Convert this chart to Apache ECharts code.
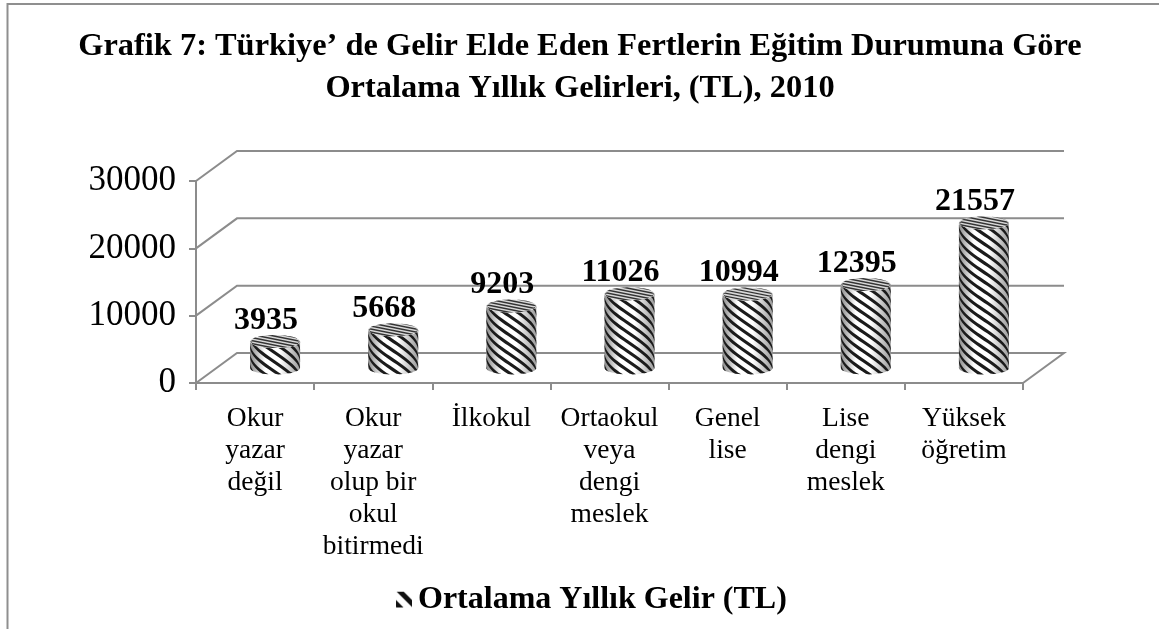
<!DOCTYPE html>
<html>
<head>
<meta charset="utf-8">
<style>
  html, body { margin: 0; padding: 0; background: #fff; }
  #main { width: 1159px; height: 629px; }
</style>
<script src="https://cdn.jsdelivr.net/npm/echarts@6/dist/echarts.min.js"></script>
</head>
<body>
<div id="main"></div>
<script>
var categories = [
  'Okur\nyazar\ndeğil',
  'Okur\nyazar\nolup bir\nokul\nbitirmedi',
  'İlkokul',
  'Ortaokul\nveya\ndengi\nmeslek',
  'Genel\nlise',
  'Lise\ndengi\nmeslek',
  'Yüksek\nöğretim'
];
var gelir = [3935, 5668, 9203, 11026, 10994, 12395, 21557];
var yTicks = [0, 10000, 20000, 30000];
var seriesName = 'Ortalama Yıllık Gelir (TL)';

var serif = '"Liberation Serif", serif';
var lineGray = '#8c8c8c';
var depthX = 41, depthY = 30;   // back wall offset
var midX = 20, midY = 15;       // where the cylinders stand on the floor

// small striped swatch for the legend
var swatch = document.createElement('canvas');
swatch.width = 16; swatch.height = 16;
var c = swatch.getContext('2d');
c.fillStyle = '#fff';
c.fillRect(0, 0, 16, 16);
c.strokeStyle = '#111';
c.lineWidth = 5;
c.beginPath();
c.moveTo(2, -2); c.lineTo(18, 14);
c.moveTo(-4, 8); c.lineTo(6, 18);
c.stroke();

function renderWall(params, api) {
  var rect = params.coordSys;
  var p = api.coord([0, api.value(1)]);
  var left = rect.x, right = rect.x + rect.width;
  var pts = [[left, p[1]], [left + depthX, p[1] - depthY], [right + depthX, p[1] - depthY]];
  if (api.value(1) === 0) pts.push([right, p[1]]);
  return {
    type: 'polyline',
    silent: true,
    shape: { points: pts },
    style: { stroke: lineGray, lineWidth: 2, fill: null }
  };
}

function renderCylinder(params, api) {
  var idx = api.value(0);
  var base = api.coord([idx, 0]);
  var top = api.coord([idx, api.value(1)]);
  var cx = base[0] + midX;
  var yBase = base[1] - midY;
  var yTop = top[1] - midY;
  var r = 25, ry = 6.5;
  var children = [];

  // body outline
  var outline = [];
  var i, t;
  for (i = 0; i <= 30; i++) {
    t = Math.PI * i / 30;
    outline.push([cx - r * Math.cos(t), yBase + ry * Math.sin(t)]);
  }
  for (i = 0; i <= 30; i++) {
    t = Math.PI * i / 30;
    outline.push([cx + r * Math.cos(t), yTop + ry * Math.sin(t)]);
  }
  children.push({
    type: 'polygon',
    shape: { points: outline },
    style: {
      fill: new echarts.graphic.LinearGradient(0, 0, 1, 0, [
        { offset: 0, color: '#8a8a8a' },
        { offset: 0.3, color: '#ffffff' },
        { offset: 0.6, color: '#ffffff' },
        { offset: 1, color: '#9a9a9a' }
      ])
    }
  });

  // helical stripes on the body
  var period = 9.5, dark = 3.8, rise = 17;
  var n = Math.ceil((yBase - yTop) / period) + 5;
  function clampY(y, x) {
    var e = ry * Math.sqrt(Math.max(0, 1 - Math.pow((x - cx) / r, 2)));
    return Math.min(yBase + e, Math.max(yTop + e, y));
  }
  for (var k = -3; k < n; k++) {
    var y0 = yTop + k * period;
    var upper = [], lower = [];
    for (i = 0; i <= 24; i++) {
      t = -Math.PI / 2 + Math.PI * i / 24;
      var x = cx + r * Math.sin(t);
      upper.push([x, clampY(y0 + rise * t, x)]);
      lower.unshift([x, clampY(y0 + dark + rise * t, x)]);
    }
    children.push({
      type: 'polygon',
      shape: { points: upper.concat(lower) },
      style: { fill: '#1b1b1b' }
    });
  }

  // top face
  children.push({
    type: 'ellipse',
    shape: { cx: cx, cy: yTop, rx: r, ry: ry },
    style: { fill: '#d8d8d8' }
  });
  for (var j = -4; j <= 4; j++) {
    var pts = [], pts2 = [];
    for (i = 0; i <= 20; i++) {
      var xx = cx - r + 2 * r * i / 20;
      var e2 = ry * Math.sqrt(Math.max(0, 1 - Math.pow((xx - cx) / r, 2)));
      var yy = yTop + j * 3 + (xx - cx) * 0.2;
      pts.push([xx, Math.min(yTop + e2, Math.max(yTop - e2, yy))]);
      pts2.unshift([xx, Math.min(yTop + e2, Math.max(yTop - e2, yy + 1.4))]);
    }
    children.push({
      type: 'polygon',
      shape: { points: pts.concat(pts2) },
      style: { fill: '#333' }
    });
  }

  children.push({
    type: 'text',
    style: {
      text: String(api.value(1)),
      x: cx - 9,
      y: yTop - 21,
      align: 'center',
      verticalAlign: 'middle',
      font: 'bold 32px ' + serif,
      fill: '#000'
    }
  });

  return { type: 'group', children: children };
}

var myChart = echarts.init(document.getElementById('main'));
myChart.setOption({
  animation: false,
  backgroundColor: '#fff',
  title: {
    text: 'Grafik 7: Türkiye’ de Gelir Elde Eden Fertlerin Eğitim Durumuna Göre\nOrtalama Yıllık Gelirleri, (TL), 2010',
    left: 575,
    top: 21,
    textAlign: 'center',
    textStyle: { fontFamily: serif, fontWeight: 'bold', fontSize: 32.4, lineHeight: 42, color: '#000' }
  },
  grid: { left: 196, right: 136, top: 181, bottom: 246 },
  legend: {
    data: [{ name: seriesName, itemStyle: { color: { image: swatch, repeat: 'no-repeat' } } }],
    left: 391,
    top: 579,
    icon: 'rect',
    itemWidth: 17,
    itemHeight: 17,
    itemGap: 5,
    textStyle: { fontFamily: serif, fontWeight: 'bold', fontSize: 32, color: '#000' }
  },
  xAxis: {
    type: 'category',
    data: categories,
    axisLine: { lineStyle: { color: lineGray, width: 2 } },
    axisTick: { show: true, length: 7, alignWithLabel: false, lineStyle: { color: lineGray, width: 2 } },
    axisLabel: { interval: 0, margin: 20, color: '#000', fontFamily: serif, fontSize: 27.5, lineHeight: 32 }
  },
  yAxis: {
    type: 'value',
    min: 0,
    max: 30000,
    interval: 10000,
    axisLine: { show: true, lineStyle: { color: lineGray, width: 2 } },
    axisTick: { show: true, length: 7, lineStyle: { color: lineGray, width: 2 } },
    splitLine: { show: false },
    axisLabel: {
      margin: 20,
      color: '#000',
      fontFamily: serif,
      fontSize: 35,
      formatter: function (v) { return String(v); }
    }
  },
  series: [
    {
      name: 'duvar',
      type: 'custom',
      renderItem: renderWall,
      data: yTicks.map(function (t) { return [0, t]; }),
      encode: { x: 0, y: 1 },
      z: 1,
      silent: true
    },
    {
      name: seriesName,
      type: 'custom',
      renderItem: renderCylinder,
      data: gelir.map(function (v, i) { return [i, v]; }),
      encode: { x: 0, y: 1 },
      clip: false,
      z: 3
    }
  ],
  graphic: [
    {
      type: 'polyline',
      silent: true,
      shape: { points: [[7.5, 629], [7.5, 4], [1159, 4]] },
      style: { stroke: '#8f8f8f', lineWidth: 2, fill: null }
    }
  ]
});
</script>
</body>
</html>
